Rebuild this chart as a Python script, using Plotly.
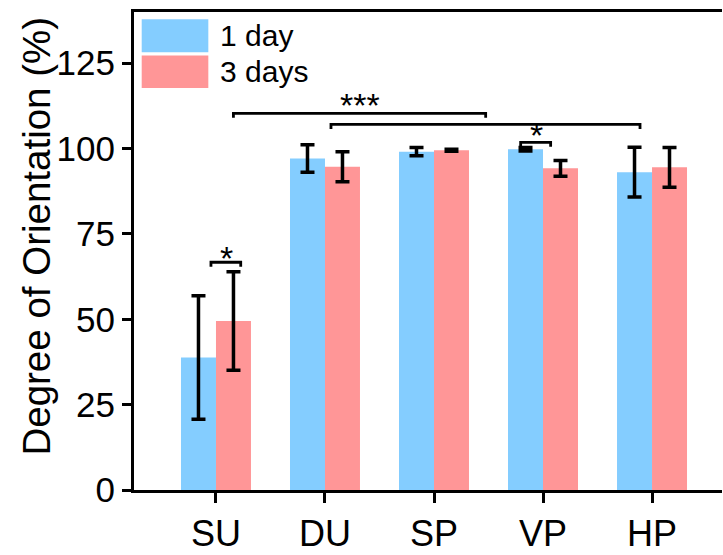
import plotly.graph_objects as go

categories = ["SU", "DU", "SP", "VP", "HP"]
series_names = ["1 day", "3 days"]
day1_mean = [38.8, 97.1, 99.1, 99.8, 93.1]
day1_err = [18.1, 4.0, 1.2, 0.5, 7.3]
day3_mean = [49.5, 94.7, 99.5, 94.2, 94.5]
day3_err = [14.4, 4.4, 0.3, 2.3, 5.8]
y_ticks = [0, 25, 50, 75, 100, 125]

# significance brackets: (x_start, x_end, y_top, drop, label, label_x, label_y)
brackets = [
    (-0.046, 0.227, 66.7, 1.3, "*", 0.098, 67.9),
    (0.16, 2.474, 110.3, 1.3, "***", 1.32, 112.9),
    (1.055, 3.89, 107.1, 1.4, "", None, None),
    (2.795, 3.07, 101.8, 1.3, "*", 2.94, 104.0),
]

BLUE = "#84CDFF"
RED = "#FF9697"
FONT = "Liberation Sans, Arial, sans-serif"

x_idx = list(range(len(categories)))

fig = go.Figure()
for name, mean, err, col in [
    (series_names[0], day1_mean, day1_err, BLUE),
    (series_names[1], day3_mean, day3_err, RED),
]:
    fig.add_trace(go.Bar(
        x=x_idx, y=mean, name=name, marker=dict(color=col, line=dict(width=0)),
        error_y=dict(type="data", array=err, visible=True, color="black",
                     thickness=3.5, width=7),
        showlegend=False,
    ))

shapes = []
annotations = []
for x0, x1, yt, d, lab, lx, ly in brackets:
    shapes.append(dict(
        type="path", xref="x", yref="y",
        path=f"M {x0},{yt - d} L {x0},{yt} L {x1},{yt} L {x1},{yt - d}",
        line=dict(color="black", width=2.8),
    ))
    if lab:
        annotations.append(dict(
            x=lx, y=ly, xref="x", yref="y", text=lab, showarrow=False,
            font=dict(family=FONT, size=34, color="black"),
            xanchor="center", yanchor="middle",
        ))

# legend drawn as large patches
leg_rows = [(series_names[0], BLUE, 0.985, 0.916), (series_names[1], RED, 0.909, 0.841)]
for name, col, ytop, ybot in leg_rows:
    shapes.append(dict(type="rect", xref="paper", yref="paper",
                       x0=0.0131, x1=0.1264, y0=ybot, y1=ytop,
                       fillcolor=col, line=dict(width=0)))
    annotations.append(dict(x=0.1429, y=(ytop + ybot) / 2, xref="paper", yref="paper",
                            text=name, showarrow=False, xanchor="left", yanchor="middle",
                            font=dict(family=FONT, size=30, color="black")))

# y-axis title
annotations.append(dict(
    x=-0.166, y=0.531, xref="paper", yref="paper", text="Degree of Orientation (%)",
    textangle=-90, showarrow=False, xanchor="center", yanchor="middle",
    font=dict(family=FONT, size=38.5, color="black"),
))

fig.update_layout(
    width=723, height=555,
    margin=dict(l=134, r=1, t=12, b=63),
    plot_bgcolor="white", paper_bgcolor="white",
    barmode="group", bargap=0.358, bargroupgap=0,
    shapes=shapes, annotations=annotations,
    font=dict(family=FONT, color="black"),
)
fig.update_xaxes(
    range=[-0.752, 4.642], tickvals=x_idx, ticktext=categories,
    showline=True, linecolor="black", linewidth=3, mirror=True,
    ticks="outside", ticklen=10, tickwidth=3, tickcolor="black",
    tickfont=dict(family=FONT, size=36, color="black"),
    showgrid=False, zeroline=False,
)
fig.update_yaxes(
    range=[0, 140], tickvals=y_ticks,
    showline=True, linecolor="black", linewidth=3, mirror=False,
    ticks="outside", ticklen=9, tickwidth=3, tickcolor="black",
    tickfont=dict(family=FONT, size=35, color="black"),
    showgrid=False, zeroline=False,
)

fig.write_html("out.html")
